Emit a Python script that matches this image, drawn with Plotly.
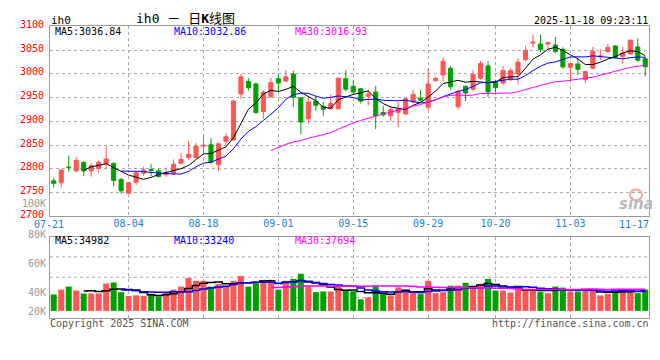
import plotly.graph_objects as go
import pandas as pd

# ---------------- data ----------------
dates = ["07-21", "07-22", "07-23", "07-24", "07-25", "07-28", "07-29", "07-30", "07-31",
         "08-01", "08-04", "08-05", "08-06", "08-07", "08-08", "08-11", "08-12", "08-13",
         "08-14", "08-15", "08-18", "08-19", "08-20", "08-21", "08-22", "08-25", "08-26",
         "08-27", "08-28", "08-29", "09-01", "09-02", "09-03", "09-04", "09-05", "09-08",
         "09-09", "09-10", "09-11", "09-12", "09-15", "09-16", "09-17", "09-18", "09-19",
         "09-22", "09-23", "09-24", "09-25", "09-26", "09-29", "09-30", "10-09", "10-10",
         "10-13", "10-14", "10-15", "10-16", "10-17", "10-20", "10-21", "10-22", "10-23",
         "10-24", "10-27", "10-28", "10-29", "10-30", "10-31", "11-03", "11-04", "11-05",
         "11-06", "11-07", "11-10", "11-11", "11-12", "11-13", "11-14", "11-17"]

opens = [2775, 2771, 2804, 2796, 2814, 2796, 2801, 2811, 2812, 2778,
         2749, 2772, 2791, 2799, 2796, 2788, 2790, 2812, 2824, 2824,
         2848, 2851, 2809, 2858, 2861, 2958, 2984, 2979, 2921, 2952,
         2990, 2985, 3000, 2950, 2906, 2943, 2932, 2927, 2927, 2990,
         2974, 2969, 2953, 2962, 2919, 2912, 2919, 2916, 2941, 2949,
         2930, 2986, 2998, 3012, 2931, 2974, 2968, 2991, 3017, 2982,
         2981, 2988, 3000, 3030, 3065, 3063, 3063, 3061, 3052, 3014,
         3021, 2988, 3012, 3036, 3047, 3059, 3037, 3042, 3057, 3032]
highs = [2781, 2798, 2828, 2825, 2816, 2812, 2818, 2848, 2813, 2781,
         2771, 2795, 2805, 2810, 2801, 2803, 2820, 2834, 2859, 2855,
         2872, 2865, 2855, 2875, 2946, 3000, 2991, 2982, 2966, 2991,
         2998, 3008, 3007, 2951, 2950, 2953, 2941, 2957, 2992, 3008,
         2986, 2970, 2967, 2975, 2933, 2931, 2941, 2950, 2967, 2967,
         3011, 2994, 3035, 3017, 2967, 2976, 3008, 3027, 3027, 2988,
         3017, 3012, 3032, 3059, 3083, 3083, 3068, 3078, 3056, 3022,
         3033, 3005, 3057, 3052, 3063, 3060, 3057, 3073, 3075, 3037]
lows = [2761, 2761, 2794, 2793, 2785, 2784, 2792, 2801, 2764, 2748,
        2748, 2766, 2786, 2785, 2783, 2783, 2788, 2810, 2820, 2822,
        2831, 2811, 2796, 2851, 2860, 2948, 2965, 2916, 2906, 2950,
        2963, 2983, 2930, 2873, 2895, 2923, 2912, 2925, 2925, 2964,
        2959, 2938, 2934, 2884, 2910, 2900, 2889, 2913, 2938, 2942,
        2923, 2984, 2984, 2967, 2925, 2943, 2964, 2988, 2952, 2962,
        2977, 2985, 2977, 3027, 3056, 3046, 3052, 3045, 3011, 2988,
        2998, 2980, 3010, 3029, 3045, 3033, 3022, 3040, 3026, 2995]
closes = [2770, 2798, 2803, 2818, 2796, 2807, 2814, 2821, 2776, 2754,
          2771, 2792, 2798, 2797, 2784, 2792, 2810, 2820, 2831, 2848,
          2850, 2814, 2853, 2868, 2943, 2994, 2971, 2919, 2962, 2982,
          2981, 2994, 2951, 2899, 2941, 2934, 2926, 2938, 2991, 2968,
          2962, 2943, 2958, 2912, 2914, 2925, 2926, 2948, 2957, 2945,
          2979, 2991, 3027, 2973, 2963, 2960, 2999, 3022, 2962, 2971,
          3007, 3007, 3025, 3050, 3067, 3052, 3066, 3047, 3015, 3022,
          3010, 3005, 3048, 3038, 3056, 3035, 3044, 3071, 3029, 3015]
volumes = [28400, 36700, 41800, 35100, 30000, 30000, 30100, 47200, 48900, 32300,
           25600, 26700, 25600, 29500, 25000, 31700, 36700, 41800, 56700, 51800,
           51800, 41800, 46200, 42300, 51800, 60100, 41800, 50100, 53500, 53500,
           36700, 51800, 55100, 64000, 41800, 32300, 33400, 33400, 43400, 36200,
           33900, 20000, 23300, 43400, 30600, 26700, 40600, 36200, 31700, 29500,
           51800, 30600, 32300, 43400, 43400, 48400, 41800, 46700, 55100, 35100,
           35100, 31700, 40600, 36700, 35100, 33400, 30600, 41800, 40100, 33400,
           33400, 35100, 35100, 26700, 29500, 35100, 37300, 36200, 30600, 36700]

tick_labels = ["08-04", "08-18", "09-01", "09-15", "09-29", "10-20", "11-03"]
edge_labels = ["07-21", "11-17"]
price_ticks = [2700, 2750, 2800, 2850, 2900, 2950, 3000, 3050, 3100]
vol_labels = ["100K", "80K", "60K", "40K", "20K"]
ma_price_text = ["MA5:3036.84", "MA10:3032.86", "MA30:3016.93"]
ma_vol_text = ["MA5:34982", "MA10:33240", "MA30:37694"]

# ---------------- styling ----------------
RED = "#ff5555"
GREEN = "#00a000"
MA_COLORS = ["#000000", "#0000ff", "#ff00ff"]
GRID = "#a8a8a8"
BORDER = "#9a9a9a"
MONO = "DejaVu Sans Mono, Liberation Mono, monospace"
BLUE_TXT = "#1a7fd6"

x = list(range(len(dates)))
close_s = pd.Series(closes, dtype=float)
vol_s = pd.Series(volumes, dtype=float)

fig = go.Figure()

fig.add_trace(go.Candlestick(
    x=x, open=opens, high=highs, low=lows, close=closes,
    increasing=dict(line=dict(color=RED, width=1), fillcolor=RED),
    decreasing=dict(line=dict(color=GREEN, width=1), fillcolor=GREEN),
    whiskerwidth=0, xaxis="x", yaxis="y", hoverinfo="skip"))

for n, c in zip([5, 10, 30], MA_COLORS):
    fig.add_trace(go.Scatter(x=x, y=close_s.rolling(n).mean(), mode="lines",
                             line=dict(color=c, width=1), xaxis="x", yaxis="y",
                             hoverinfo="skip"))

bar_colors = [RED if c >= o else GREEN for o, c in zip(opens, closes)]
fig.add_trace(go.Bar(x=x, y=volumes, marker=dict(color=bar_colors, line=dict(width=0)),
                     xaxis="x2", yaxis="y2", hoverinfo="skip"))
for n, c in zip([5, 10, 30], MA_COLORS):
    fig.add_trace(go.Scatter(x=x, y=vol_s.rolling(n).mean(), mode="lines",
                             line=dict(color=c, width=1.5, shape="hvh"),
                             xaxis="x2", yaxis="y2", hoverinfo="skip"))

tickvals = [dates.index(t) for t in tick_labels]

common_x = dict(range=[-0.5, len(dates) - 0.5], showline=True, mirror=True,
                linecolor=BORDER, linewidth=1, showgrid=True, gridcolor=GRID,
                griddash="dot", gridwidth=1, zeroline=False, tickvals=tickvals,
                ticks="", fixedrange=True)

# the page body adds an 8px margin, so the figure is 8px smaller and offset
W, HT = 652, 352
L, R, T, B = 42, 11, 10, 42
PH = HT - T - B  # 300 px plot height -> page y 18 .. 318


def yf(px):
    return (318 - px) / PH


def xf(px):
    return (px - 50) / 599


fig.update_layout(
    width=W, height=HT,
    margin=dict(l=L, r=R, t=T, b=B),
    paper_bgcolor="white", plot_bgcolor="white",
    showlegend=False, boxgap=0.22, bargap=0.2,
    font=dict(family=MONO, size=10, color="#000000"),
    xaxis=dict(**common_x, anchor="y", ticktext=tick_labels,
               tickfont=dict(family=MONO, size=10, color=BLUE_TXT),
               rangeslider=dict(visible=False), ticklabelstandoff=-2),
    yaxis=dict(domain=[yf(213.7), yf(18.5)], range=[2700, 3100], tickvals=price_ticks,
               showline=True, mirror=True, linecolor=BORDER, linewidth=1,
               showgrid=True, gridcolor=GRID, griddash="dot", zeroline=False,
               ticks="", tickfont=dict(family=MONO, size=10, color="#ff0000"),
               ticklabelstandoff=3, ticklabelshift=-2, fixedrange=True),
    xaxis2=dict(**common_x, anchor="y2", matches="x", showticklabels=False),
    yaxis2=dict(domain=[0, yf(234.3)], range=[-12200, 128000], showticklabels=False,
                showline=True, mirror=True, linecolor=BORDER, linewidth=1,
                showgrid=False, zeroline=False, ticks="", fixedrange=True),
)

# horizontal quarter grid lines of the volume panel
for f in [0.25, 0.5, 0.75]:
    fig.add_shape(type="line", xref="x2 domain", yref="y2 domain", x0=0, x1=1, y0=f, y1=f,
                  line=dict(color=GRID, width=1, dash="dot"), layer="below")


def note(text, xpx, ypx, anchor="left", color="#000000", size=10, family=MONO, **kw):
    fig.add_annotation(text=text, x=xf(xpx), y=yf(ypx), xref="paper", yref="paper",
                       xanchor=anchor, yanchor="middle", showarrow=False, borderpad=0,
                       font=dict(family=family, size=size, color=color), **kw)


# header
note("ih0", 50, 12, size=11)
note("ih0 － 日<b>K</b>线图", 185, 10, anchor="center", size=13,
     family="DejaVu Sans Mono, Noto Sans CJK SC")
note("2025-11-18 09:23:11", 649, 12, anchor="right")

for t, xp, c in zip(ma_price_text, [54, 173, 294], MA_COLORS):
    note(t, xp, 24, color=c)
for t, xp, c in zip(ma_vol_text, [54, 173, 294], MA_COLORS):
    note(t, xp, 238, color=c)

# edge date labels
note(edge_labels[0], 49, 221, anchor="center", color=BLUE_TXT, height=10)
note(edge_labels[1], 650, 221, anchor="right", color=BLUE_TXT, height=10)

# volume axis labels
for t, yp in zip(vol_labels, [200, 232, 261, 291, 311]):
    note(t, 47, yp, anchor="right", color="#999999", height=10)

# footer
note("Copyright 2025 SINA.COM", 49, 324, color="#555555")
note("http://finance.sina.com.cn", 650, 324, anchor="right", color="#555555")

# sina watermark
fig.add_shape(type="circle", xref="paper", yref="paper",
              x0=xf(630), x1=xf(642), y0=yf(197), y1=yf(186),
              line=dict(color="#f4a6a6", width=2))
note("<i><b>sina</b></i>", 636, 201, anchor="center", color="#b8b8b8", size=15,
     family="DejaVu Sans, Liberation Sans")

fig.write_html("out.html")
